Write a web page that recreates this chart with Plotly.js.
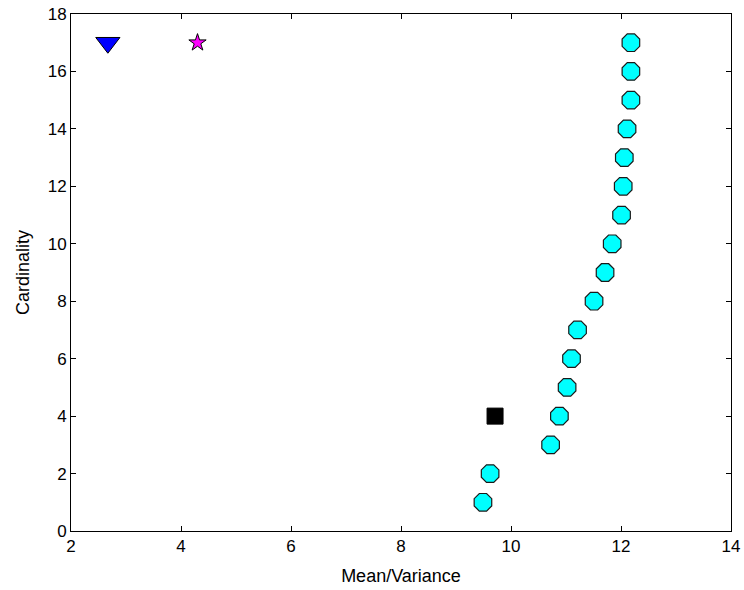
<!DOCTYPE html>
<html>
<head>
<meta charset="utf-8">
<script src="https://cdn.plot.ly/plotly-3.0.1.min.js"></script>
<style>html,body{margin:0;padding:0;background:#fff;}#chart{width:744px;height:590px;}</style>
</head>
<body>
<div id="chart"></div>
<script>
// Main series (cyan octagons)
const cardinality = [1,2,3,4,5,6,7,8,9,10,11,12,13,14,15,16,17];
const meanVariance = [9.49,9.62,10.72,10.88,11.02,11.10,11.21,11.51,11.71,11.84,12.01,12.04,12.06,12.11,12.18,12.18,12.18];
// Single reference points
const squareX = [9.71], squareY = [4];
const triangleX = [2.67], triangleY = [17];
const starX = [4.30], starY = [17];
const xTicks = [2,4,6,8,10,12,14];
const yTicks = [0,2,4,6,8,10,12,14,16,18];

const FONT = 'Liberation Sans, Arial, sans-serif';

const traces = [
  {x: meanVariance, y: cardinality, mode: 'markers', type: 'scatter',
   marker: {symbol: 'octagon', size: 19, color: '#00ffff', line: {color: '#1a1a1a', width: 1.2}}},
  {x: squareX, y: squareY, mode: 'markers', type: 'scatter',
   marker: {symbol: 'square', size: 16, color: '#000000', line: {color: '#000', width: 1}}},
  {x: triangleX, y: triangleY, mode: 'markers', type: 'scatter',
   marker: {symbol: 'triangle-down', size: 21, color: '#0000ff', line: {color: '#000', width: 1}}},
  {x: starX, y: starY, mode: 'markers', type: 'scatter',
   marker: {symbol: 'star', size: 13, color: '#ff00ff', line: {color: '#000', width: 1}}}
];

const axisCommon = {
  showgrid: false, zeroline: false, showline: true, linecolor: '#000', linewidth: 1,
  mirror: 'ticks', ticks: 'inside', ticklen: 5, tickcolor: '#000',
  tickfont: {family: FONT, size: 17, color: '#000'}
};

const layout = {
  width: 744, height: 590,
  margin: {l: 71, r: 13, t: 14, b: 59},
  paper_bgcolor: '#fff', plot_bgcolor: '#fff',
  showlegend: false,
  xaxis: Object.assign({}, axisCommon, {
    range: [2, 14], tickvals: xTicks, ticktext: xTicks.map(String),
    title: {text: 'Mean/Variance', standoff: 13, font: {family: FONT, size: 18, color: '#000'}}
  }),
  yaxis: Object.assign({}, axisCommon, {
    range: [0, 18], tickvals: yTicks, ticktext: yTicks.map(String),
    title: {text: 'Cardinality', standoff: 13, font: {family: FONT, size: 18, color: '#000'}}
  })
};

Plotly.newPlot('chart', traces, layout, {displayModeBar: false, staticPlot: true});
</script>
</body>
</html>
